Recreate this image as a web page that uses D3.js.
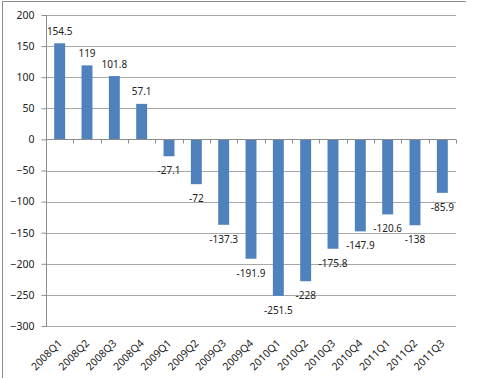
<!DOCTYPE html>
<html>
<head>
<meta charset="utf-8">
<script src="https://cdn.jsdelivr.net/npm/d3@7.9.0/dist/d3.min.js"></script>
<style>
  body { margin: 0; background: #fff; }
  svg { display: block; }
  text { font-family: "Noto Sans", sans-serif; font-size: 10px; fill: #222; }
</style>
</head>
<body>
<svg id="chart" width="484" height="378"></svg>
<script>
const quarters = ['2008Q1', '2008Q2', '2008Q3', '2008Q4', '2009Q1', '2009Q2', '2009Q3', '2009Q4',
  '2010Q1', '2010Q2', '2010Q3', '2010Q4', '2011Q1', '2011Q2', '2011Q3'];
const values = [154.5, 119, 101.8, 57.1, -27.1, -72, -137.3, -191.9,
  -251.5, -228, -175.8, -147.9, -120.6, -138, -85.9];
const yTicks = [200, 150, 100, 50, 0, -50, -100, -150, -200, -250, -300];

const svg = d3.select('#chart');
const plotLeft = 46, plotRight = 456, plotTop = 15, plotBottom = 326;

let x = d3.scaleBand().domain(quarters).range([plotLeft, plotRight]).paddingInner(0.6).paddingOuter(0.3);
let y = d3.scaleLinear().domain([-300, 200]).range([plotBottom, plotTop]);

// outer frame (only the top and left edges show)
svg.append('path')
  .attr('d', 'M2.5,378V1.5H466')
  .attr('fill', 'none').attr('stroke', '#8c8c8c');

// gridlines
svg.append('g').selectAll('line')
  .data(yTicks)
  .join('line')
  .attr('x1', plotLeft).attr('x2', plotRight)
  .attr('y1', d => Math.round(y(d)) + 0.5).attr('y2', d => Math.round(y(d)) + 0.5)
  .attr('stroke', '#a8a8a8');

// y axis
let yAxis = svg.append('g')
  .attr('transform', `translate(${plotLeft + 0.5},0)`)
  .call(d3.axisLeft(y).tickValues(yTicks).tickSize(5).tickPadding(7).tickFormat(d3.format('d')));
yAxis.select('.domain').attr('stroke', '#8c8c8c').attr('d', `M-0,${plotTop}V${plotBottom}`);
yAxis.selectAll('.tick line').attr('stroke', '#8c8c8c');
yAxis.selectAll('.tick text').attr('fill', '#222').style('font-size', '10.5px');

// bars
svg.append('g').selectAll('rect')
  .data(values)
  .join('rect')
  .attr('x', (d, i) => x(quarters[i]))
  .attr('width', x.bandwidth())
  .attr('y', d => y(Math.max(0, d)))
  .attr('height', d => Math.abs(y(d) - y(0)))
  .attr('fill', '#4f81bd');

// category axis on the zero line
let y0 = Math.round(y(0)) + 0.5;
svg.append('line')
  .attr('x1', plotLeft).attr('x2', plotRight).attr('y1', y0).attr('y2', y0)
  .attr('stroke', '#8c8c8c');
svg.append('g').selectAll('line')
  .data(d3.range(quarters.length + 1))
  .join('line')
  .attr('x1', i => Math.round(plotLeft + i * x.step()) + 0.5)
  .attr('x2', i => Math.round(plotLeft + i * x.step()) + 0.5)
  .attr('y1', y0).attr('y2', y0 + 4)
  .attr('stroke', '#8c8c8c');

// data labels
svg.append('g').selectAll('text')
  .data(values)
  .join('text')
  .attr('x', (d, i) => x(quarters[i]) + x.bandwidth() / 2)
  .attr('y', d => d >= 0 ? y(d) - 12 : y(d) + 14.5)
  .attr('dy', '0.35em')
  .attr('text-anchor', 'middle')
  .text(d => d);

// rotated category labels
svg.append('g').selectAll('text')
  .data(quarters)
  .join('text')
  .attr('transform', d => `translate(${x(d) + x.bandwidth() / 2 + 3},${plotBottom + 18}) rotate(-45)`)
  .attr('text-anchor', 'end')
  .style('font-size', '10.5px')
  .text(d => d);
</script>
</body>
</html>
